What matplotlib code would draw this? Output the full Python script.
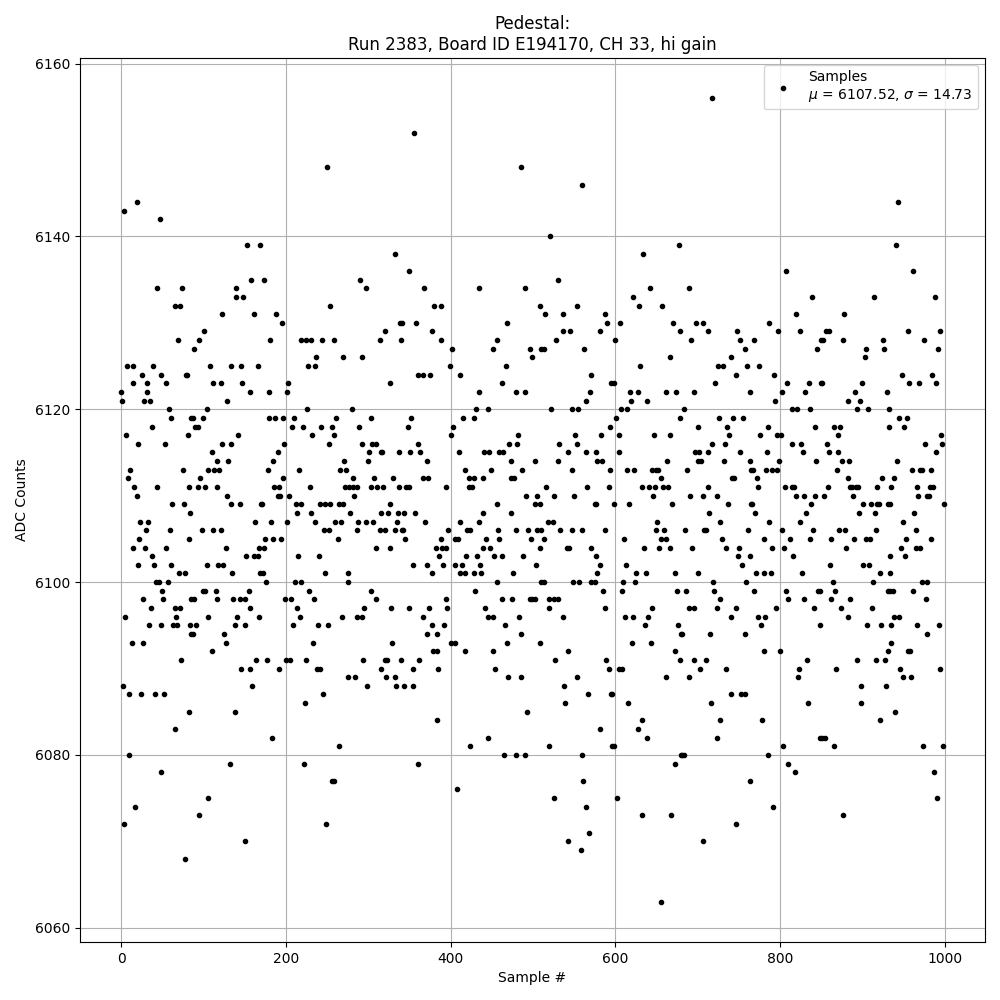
import matplotlib
matplotlib.use("Agg")
import matplotlib.pyplot as plt
import numpy as np

# sample index and ADC value, ~85 samples per line block
sample_no = [
    # 0 - 85
    4, 19, 47, 43, 74, 65, 72, 69, 7, 14,
    39, 25, 48, 79, 15, 31, 54, 0, 32, 1,
    28, 35, 58, 61, 85, 37, 6, 21, 53, 81,
    11, 8, 75, 16, 44, 83, 19, 62, 76, 84,
    23, 33, 30, 59, 22, 82, 14, 29, 55, 38,
    20, 40, 60, 70, 77, 42, 46, 57, 50, 27,
    51, 85, 36, 66, 71, 5, 67, 34, 49, 63,
    68, 84, 85, 13, 26, 73, 2, 9, 24, 41,
    52, 83, 65, 10, 48, 17, 3, 78,
    # 85 - 170
    153, 169, 158, 139, 140, 148, 123, 161, 101, 94,
    89, 108, 133, 145, 166, 80, 112, 121, 147, 156,
    129, 104, 87, 99, 90, 93, 142, 122, 133, 110,
    116, 130, 106, 113, 119, 96, 93, 102, 116, 128,
    134, 144, 170, 163, 98, 111, 121, 127, 168, 152,
    161, 166, 104, 118, 124, 135, 169, 88, 100, 102,
    115, 117, 136, 144, 150, 155, 156, 105, 141, 167,
    91, 138, 151, 87, 125, 127, 110, 164, 146, 157,
    159, 138, 132, 106, 95, 150,
    # 170 - 255
    250, 174, 254, 188, 195, 181, 219, 224, 230, 244,
    237, 227, 235, 203, 179, 202, 226, 180, 187, 196,
    210, 207, 221, 243, 232, 198, 252, 190, 185, 178,
    216, 197, 186, 192, 229, 191, 193, 204, 171, 212,
    218, 241, 248, 254, 214, 231, 182, 201, 236, 246,
    253, 175, 184, 194, 173, 215, 240, 172, 247, 176,
    211, 219, 228, 199, 206, 234, 213, 217, 209, 239,
    251, 233, 177, 200, 205, 224, 192, 238, 242, 245,
    223, 183, 222, 256, 249,
    # 255 - 340
    333, 290, 297, 259, 314, 321, 339, 340, 270, 293,
    327, 280, 261, 303, 256, 289, 258, 292, 305, 310,
    301, 315, 317, 337, 271, 300, 266, 273, 282, 307,
    330, 272, 277, 281, 286, 303, 311, 318, 338, 283,
    264, 269, 326, 278, 316, 324, 336, 260, 267, 288,
    297, 306, 335, 287, 314, 320, 332, 341, 263, 309,
    326, 275, 276, 304, 310, 268, 287, 292, 295, 328,
    329, 294, 320, 323, 340, 315, 275, 284, 322, 332,
    298, 334, 265, 258,
    # 340 - 425
    356, 350, 368, 380, 388, 341, 358, 377, 389, 402,
    399, 360, 367, 375, 411, 352, 415, 348, 403, 400,
    361, 351, 363, 410, 371, 417, 366, 373, 422, 346,
    349, 394, 423, 343, 357, 369, 412, 342, 397, 420,
    424, 345, 389, 405, 409, 382, 390, 395, 386, 419,
    354, 372, 391, 406, 414, 378, 412, 418, 394, 349,
    374, 396, 366, 377, 392, 371, 384, 400, 405, 379,
    383, 417, 362, 354, 385, 344, 355, 383, 424, 360,
    408,
    # 425 - 510
    485, 490, 434, 508, 468, 456, 451, 496, 499, 510,
    467, 462, 435, 479, 490, 431, 446, 428, 482, 471,
    481, 441, 447, 459, 464, 473, 502, 449, 487, 428,
    440, 474, 477, 426, 492, 505, 457, 503, 508, 439,
    473, 434, 458, 480, 494, 505, 510, 443, 459, 498,
    439, 448, 509, 432, 453, 463, 488, 436, 504, 429,
    437, 476, 456, 510, 430, 462, 475, 496, 499, 503,
    442, 445, 452, 483, 466, 485, 469, 509, 451, 454,
    470, 486, 493, 445, 465, 479, 491,
    # 510 - 595
    559, 521, 530, 554, 515, 537, 587, 590, 528, 536,
    545, 581, 513, 562, 570, 595, 569, 565, 522, 547,
    555, 593, 532, 583, 551, 543, 553, 564, 576, 531,
    578, 584, 548, 594, 516, 566, 592, 525, 550, 575,
    577, 518, 524, 533, 547, 559, 588, 514, 541, 544,
    571, 577, 582, 578, 513, 549, 556, 571, 575, 585,
    520, 525, 530, 519, 587, 536, 542, 527, 589, 592,
    553, 538, 567, 595, 539, 581, 519, 596, 560, 561,
    526, 564, 568, 542, 558,
    # 595 - 680
    677, 634, 642, 622, 629, 657, 606, 670, 600, 679,
    667, 630, 598, 618, 627, 661, 674, 619, 638, 607,
    614, 601, 678, 604, 647, 667, 605, 663, 614, 623,
    645, 649, 652, 656, 633, 641, 648, 658, 664, 646,
    599, 617, 669, 651, 650, 659, 610, 655, 662, 635,
    653, 666, 613, 625, 637, 672, 609, 624, 608, 675,
    644, 612, 621, 640, 636, 676, 680, 620, 643, 673,
    679, 604, 608, 661, 596, 616, 632, 627, 639, 598,
    680, 672, 602, 632, 668, 655,
    # 680 - 765
    718, 689, 698, 707, 692, 713, 748, 752, 758, 740,
    725, 731, 760, 747, 721, 695, 764, 684, 726, 743,
    755, 736, 701, 738, 718, 733, 697, 702, 712, 752,
    700, 704, 732, 764, 687, 765, 742, 744, 712, 691,
    706, 724, 714, 737, 765, 727, 685, 708, 710, 761,
    730, 693, 735, 750, 749, 763, 754, 701, 719, 759,
    686, 720, 727, 690, 696, 723, 746, 741, 681, 715,
    757, 695, 710, 703, 735, 689, 740, 753, 757, 716,
    727, 723, 681, 684, 763, 746, 706,
    # 765 - 850
    807, 839, 787, 820, 769, 798, 824, 845, 850, 775,
    793, 803, 809, 835, 850, 830, 794, 814, 821, 837,
    786, 843, 776, 796, 801, 815, 826, 784, 828, 799,
    844, 767, 783, 790, 796, 772, 773, 806, 814, 817,
    820, 829, 843, 838, 766, 770, 832, 787, 824, 803,
    840, 780, 812, 837, 790, 805, 816, 771, 780, 789,
    827, 769, 807, 846, 849, 810, 829, 795, 841, 773,
    782, 777, 849, 780, 800, 833, 823, 822, 834, 778,
    849, 804, 786, 810, 818, 792,
    # 850 - 935
    914, 878, 856, 860, 852, 877, 925, 926, 905, 903,
    851, 900, 891, 897, 930, 894, 907, 882, 866, 873,
    871, 932, 857, 860, 871, 875, 884, 869, 882, 924,
    858, 885, 888, 892, 895, 918, 854, 889, 901, 911,
    918, 920, 931, 934, 896, 915, 917, 872, 879, 880,
    862, 890, 905, 909, 861, 901, 908, 922, 934, 913,
    864, 867, 931, 862, 885, 874, 912, 883, 906, 923,
    935, 931, 894, 916, 928, 868, 898, 929, 898, 922,
    851, 855, 865, 877,
    # 935 - 999
    943, 941, 962, 988, 955, 975, 994, 992, 948, 957,
    969, 985, 990, 932, 945, 954, 951, 996, 997, 976,
    989, 942, 960, 970, 972, 983, 938, 935, 966, 982,
    986, 999, 968, 979, 981, 963, 949, 965, 983, 953,
    947, 965, 970, 934, 952, 933, 937, 962, 972, 978,
    977, 938, 945, 935, 966, 993, 978, 955, 958, 994,
    946, 949, 959, 940, 974, 998, 987, 991,
]

adc_counts = [
    # 0 - 85
    6143, 6144, 6142, 6134, 6134, 6132, 6132, 6128, 6125, 6125,
    6125, 6124, 6124, 6124, 6123, 6123, 6123, 6122, 6122, 6121,
    6121, 6121, 6120, 6119, 6119, 6118, 6117, 6116, 6116, 6117,
    6113, 6112, 6113, 6111, 6111, 6111, 6110, 6109, 6109, 6108,
    6107, 6107, 6106, 6106, 6105, 6105, 6104, 6104, 6104, 6103,
    6102, 6102, 6102, 6101, 6101, 6100, 6100, 6100, 6099, 6098,
    6098, 6098, 6097, 6097, 6097, 6096, 6096, 6095, 6095, 6095,
    6095, 6095, 6094, 6093, 6093, 6091, 6088, 6087, 6087, 6087,
    6087, 6085, 6083, 6080, 6078, 6074, 6072, 6068,
    # 85 - 170
    6139, 6139, 6135, 6134, 6133, 6133, 6131, 6131, 6129, 6128,
    6127, 6125, 6125, 6125, 6125, 6124, 6123, 6123, 6123, 6122,
    6121, 6120, 6119, 6119, 6118, 6118, 6117, 6116, 6116, 6115,
    6114, 6114, 6113, 6113, 6113, 6112, 6111, 6111, 6111, 6110,
    6109, 6109, 6109, 6107, 6106, 6106, 6106, 6104, 6104, 6103,
    6103, 6103, 6102, 6102, 6102, 6101, 6101, 6098, 6099, 6099,
    6099, 6098, 6098, 6098, 6098, 6099, 6097, 6096, 6096, 6096,
    6095, 6095, 6095, 6094, 6094, 6093, 6092, 6091, 6090, 6090,
    6088, 6085, 6079, 6075, 6073, 6070,
    # 170 - 255
    6148, 6135, 6132, 6131, 6130, 6128, 6128, 6128, 6128, 6128,
    6126, 6125, 6125, 6123, 6122, 6122, 6120, 6119, 6119, 6119,
    6119, 6118, 6118, 6118, 6117, 6116, 6116, 6115, 6114, 6113,
    6113, 6112, 6111, 6111, 6111, 6110, 6110, 6110, 6109, 6109,
    6109, 6109, 6109, 6109, 6108, 6108, 6107, 6107, 6107, 6106,
    6106, 6105, 6105, 6105, 6104, 6103, 6103, 6101, 6101, 6100,
    6100, 6100, 6099, 6098, 6098, 6098, 6097, 6096, 6095, 6095,
    6095, 6093, 6091, 6091, 6091, 6091, 6090, 6090, 6090, 6087,
    6086, 6082, 6079, 6077, 6072,
    # 255 - 340
    6138, 6135, 6134, 6128, 6128, 6129, 6130, 6128, 6126, 6126,
    6123, 6120, 6119, 6119, 6118, 6118, 6117, 6116, 6116, 6116,
    6115, 6115, 6115, 6115, 6114, 6114, 6113, 6113, 6112, 6112,
    6112, 6111, 6111, 6111, 6111, 6111, 6111, 6111, 6111, 6110,
    6109, 6109, 6109, 6108, 6108, 6108, 6108, 6107, 6107, 6107,
    6107, 6107, 6107, 6106, 6106, 6106, 6106, 6106, 6105, 6104,
    6104, 6101, 6100, 6099, 6098, 6096, 6096, 6096, 6097, 6097,
    6093, 6091, 6091, 6091, 6091, 6090, 6089, 6089, 6089, 6089,
    6088, 6088, 6081, 6077,
    # 340 - 425
    6152, 6136, 6134, 6132, 6132, 6130, 6130, 6129, 6128, 6127,
    6125, 6124, 6124, 6124, 6124, 6119, 6119, 6118, 6118, 6117,
    6116, 6115, 6115, 6115, 6114, 6113, 6112, 6112, 6112, 6111,
    6111, 6111, 6111, 6108, 6108, 6107, 6107, 6106, 6106, 6106,
    6106, 6105, 6105, 6105, 6105, 6104, 6104, 6104, 6103, 6103,
    6102, 6102, 6102, 6102, 6102, 6101, 6101, 6101, 6098, 6097,
    6097, 6097, 6096, 6095, 6095, 6094, 6094, 6093, 6093, 6092,
    6092, 6092, 6091, 6090, 6090, 6088, 6088, 6084, 6081, 6079,
    6076,
    # 425 - 510
    6148, 6134, 6134, 6132, 6130, 6128, 6127, 6127, 6126, 6127,
    6125, 6123, 6122, 6122, 6122, 6120, 6120, 6119, 6117, 6116,
    6116, 6115, 6115, 6115, 6115, 6114, 6114, 6113, 6113, 6112,
    6112, 6112, 6112, 6111, 6110, 6110, 6109, 6109, 6109, 6108,
    6108, 6107, 6106, 6106, 6106, 6106, 6106, 6105, 6105, 6105,
    6104, 6104, 6104, 6103, 6103, 6103, 6103, 6102, 6102, 6101,
    6101, 6101, 6100, 6100, 6099, 6098, 6098, 6098, 6098, 6098,
    6097, 6096, 6096, 6096, 6095, 6094, 6093, 6093, 6092, 6090,
    6089, 6089, 6085, 6082, 6080, 6080, 6080,
    # 510 - 595
    6146, 6140, 6135, 6132, 6131, 6131, 6131, 6130, 6128, 6129,
    6129, 6129, 6127, 6127, 6124, 6123, 6122, 6121, 6120, 6120,
    6120, 6118, 6116, 6117, 6117, 6115, 6116, 6115, 6115, 6114,
    6114, 6114, 6113, 6113, 6111, 6111, 6111, 6110, 6110, 6109,
    6109, 6107, 6107, 6106, 6106, 6106, 6106, 6105, 6104, 6104,
    6104, 6103, 6102, 6101, 6100, 6100, 6100, 6100, 6100, 6099,
    6098, 6098, 6098, 6097, 6097, 6096, 6092, 6091, 6091, 6090,
    6089, 6088, 6087, 6087, 6086, 6083, 6081, 6081, 6080, 6077,
    6075, 6074, 6071, 6070, 6069,
    # 595 - 680
    6139, 6138, 6134, 6133, 6132, 6132, 6130, 6130, 6128, 6129,
    6126, 6125, 6123, 6122, 6122, 6122, 6122, 6121, 6121, 6120,
    6120, 6119, 6119, 6117, 6117, 6117, 6115, 6114, 6113, 6113,
    6113, 6113, 6113, 6112, 6111, 6111, 6111, 6111, 6111, 6110,
    6109, 6109, 6109, 6107, 6106, 6106, 6105, 6105, 6105, 6104,
    6104, 6104, 6102, 6101, 6101, 6101, 6100, 6100, 6099, 6099,
    6097, 6096, 6096, 6096, 6095, 6095, 6094, 6093, 6093, 6092,
    6091, 6090, 6090, 6089, 6087, 6086, 6084, 6083, 6082, 6081,
    6080, 6079, 6075, 6073, 6073, 6063,
    # 680 - 765
    6156, 6134, 6130, 6130, 6128, 6129, 6129, 6128, 6127, 6126,
    6125, 6125, 6125, 6124, 6123, 6122, 6122, 6120, 6119, 6119,
    6119, 6118, 6118, 6117, 6116, 6116, 6115, 6115, 6115, 6115,
    6114, 6114, 6114, 6114, 6113, 6113, 6112, 6112, 6111, 6110,
    6110, 6110, 6108, 6109, 6109, 6107, 6106, 6106, 6106, 6106,
    6105, 6104, 6104, 6104, 6103, 6103, 6102, 6101, 6100, 6100,
    6099, 6099, 6098, 6097, 6097, 6097, 6097, 6096, 6094, 6094,
    6094, 6091, 6091, 6090, 6090, 6089, 6087, 6087, 6087, 6086,
    6084, 6082, 6080, 6080, 6077, 6072, 6070,
    # 765 - 850
    6136, 6133, 6130, 6131, 6128, 6129, 6129, 6127, 6128, 6125,
    6124, 6122, 6123, 6123, 6123, 6122, 6121, 6120, 6120, 6120,
    6118, 6118, 6117, 6117, 6117, 6116, 6116, 6115, 6115, 6114,
    6114, 6113, 6113, 6113, 6113, 6112, 6111, 6111, 6111, 6111,
    6110, 6110, 6110, 6109, 6109, 6108, 6108, 6107, 6107, 6106,
    6106, 6105, 6105, 6105, 6104, 6104, 6103, 6101, 6101, 6101,
    6101, 6099, 6099, 6099, 6099, 6098, 6098, 6097, 6097, 6096,
    6096, 6095, 6095, 6092, 6092, 6091, 6090, 6089, 6086, 6084,
    6082, 6081, 6080, 6079, 6078, 6074,
    # 850 - 935
    6133, 6131, 6129, 6129, 6128, 6128, 6128, 6127, 6127, 6126,
    6123, 6123, 6122, 6121, 6122, 6120, 6120, 6121, 6118, 6118,
    6117, 6118, 6116, 6115, 6115, 6114, 6114, 6113, 6112, 6112,
    6111, 6111, 6111, 6111, 6111, 6111, 6110, 6110, 6109, 6109,
    6109, 6109, 6109, 6109, 6108, 6108, 6106, 6106, 6106, 6104,
    6105, 6105, 6105, 6105, 6102, 6102, 6102, 6101, 6101, 6100,
    6100, 6099, 6099, 6098, 6098, 6097, 6097, 6096, 6095, 6095,
    6093, 6092, 6091, 6091, 6091, 6090, 6088, 6088, 6086, 6084,
    6082, 6082, 6081, 6073,
    # 935 - 999
    6144, 6139, 6136, 6133, 6129, 6128, 6129, 6127, 6124, 6123,
    6123, 6124, 6123, 6120, 6119, 6119, 6118, 6117, 6116, 6116,
    6115, 6114, 6113, 6113, 6113, 6113, 6112, 6111, 6111, 6111,
    6111, 6109, 6110, 6110, 6110, 6108, 6107, 6106, 6105, 6105,
    6104, 6104, 6104, 6103, 6103, 6099, 6099, 6099, 6100, 6100,
    6098, 6096, 6096, 6095, 6095, 6095, 6094, 6092, 6092, 6090,
    6090, 6089, 6089, 6085, 6081, 6081, 6078, 6075,
]

assert len(sample_no) == len(adc_counts)

run = 2383
board_id = 'E194170'
channel = 33
gain = 'hi'
mu = 6107.52
sigma = 14.73

fig, ax = plt.subplots(figsize=(10, 10), dpi=100)
fig.subplots_adjust(left=0.08, right=0.985, top=0.942, bottom=0.058)

ax.plot(sample_no, adc_counts, 'k.',
        label='Samples\n$\\mu$ = {:.2f}, $\\sigma$ = {:.2f}'.format(mu, sigma))
ax.set_title('Pedestal:\nRun {}, Board ID {}, CH {}, {} gain'.format(
    run, board_id, channel, gain))
ax.set_xlabel('Sample #')
ax.set_ylabel('ADC Counts')
ax.grid(True)
ax.legend(loc='upper right')

fig.savefig('out.png')
